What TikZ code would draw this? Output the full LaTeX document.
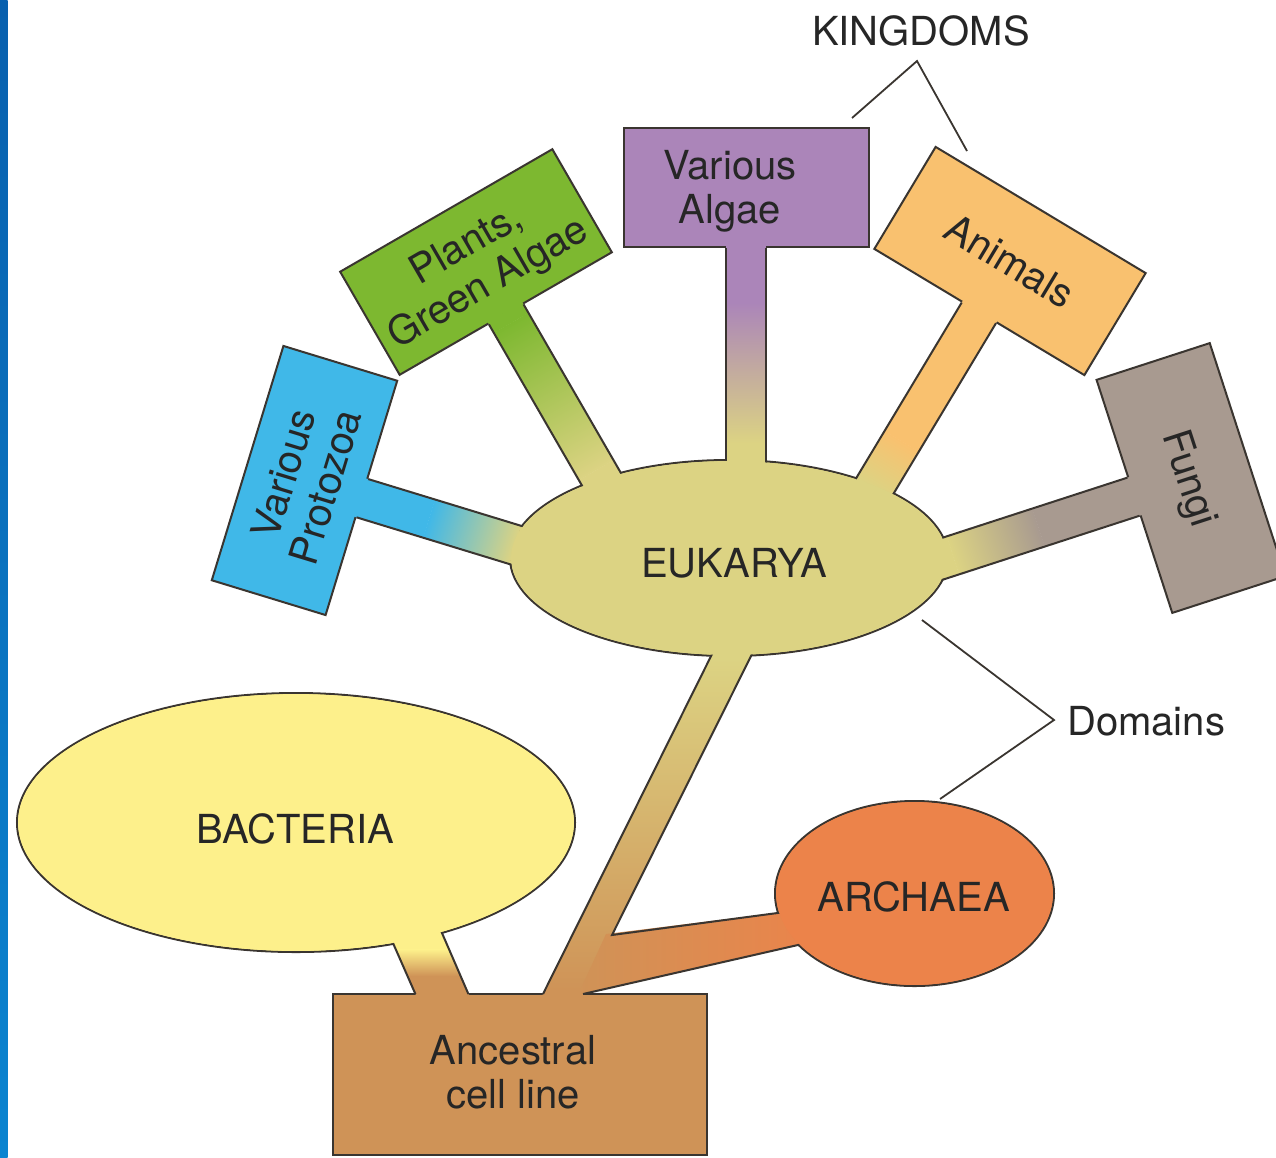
\documentclass[tikz,border=0pt]{standalone}
\usepackage{fontspec}
\setmainfont{TeX Gyre Heros}
\usetikzlibrary{shapes.geometric}

\definecolor{algaec}{HTML}{AB85B9}
\definecolor{plantc}{HTML}{7DB830}
\definecolor{protoc}{HTML}{40B8E8}
\definecolor{animc}{HTML}{F9C16F}
\definecolor{fungic}{HTML}{A89A90}
\definecolor{eukc}{HTML}{DCD383}
\definecolor{bactc}{HTML}{FDF08B}
\definecolor{archc}{HTML}{EC834A}
\definecolor{ancc}{HTML}{CF9357}
\definecolor{edgec}{HTML}{3A3530}
\definecolor{txtc}{HTML}{262626}
\definecolor{stripa}{HTML}{0860AE}
\definecolor{stripb}{HTML}{0A84D0}

\tikzset{
  every node/.style={font=\fontsize{40}{44}\selectfont, text=txtc},
  kbox/.style={draw=edgec, line width=2pt, rectangle, minimum width=245pt,
    minimum height=119pt, inner sep=0pt, align=center},
  dom/.style={draw=edgec, line width=2pt, ellipse, inner sep=0pt},
  domin/.style={ellipse, inner sep=0pt},
  lbl/.style={inner sep=0pt, align=center},
  edge/.style={draw=edgec, line width=2pt},
  bracket/.style={draw=edgec, line width=1.8pt},
}

% stem from a (rotated) box toward the EUKARYA ellipse
% #1 node, #2 angle, #3 solid length, #4 end of gradient, #5 total length,
% #6 box colour, #7 ellipse colour
\newcommand\kstem[7]{%
  \begin{scope}[transform canvas={shift={(#1.south)},rotate=#2}]
    \fill[#6] (-20,-3) rectangle (20,#3);
    \shade[top color=#6,bottom color=#7] (-20,#3-0.3) rectangle (20,#4);
    \fill[#7] (-20,#4-0.3) rectangle (20,#5);
    \draw[edge] (-20,0) -- (-20,#5) (20,0) -- (20,#5);
  \end{scope}}

\begin{document}
\begin{tikzpicture}[x=1pt,y=-1pt]
\useasboundingbox (0,0) rectangle (1276,1157);
\fill[white] (0,0) rectangle (1276,1157);
\shade[top color=stripa, bottom color=stripb] (0,0) rectangle (7.5,1157);

% ---- domains and root box
\node[dom, fill=eukc, minimum width=438pt, minimum height=196pt] (euk) at (729,558) {};
\node[dom, fill=bactc, minimum width=558pt, minimum height=259pt] (bact) at (296,822.5) {};
\node[dom, fill=archc, minimum width=279pt, minimum height=185pt] (arch) at (914.5,893.5) {};
\node[kbox, fill=ancc, minimum width=374pt, minimum height=161pt] (anc) at (520,1074.5) {};

% ---- kingdom boxes
\node[kbox, fill=algaec] (algae) at (746,187.5) {};
\node[kbox, fill=plantc, rotate=30] (plants) at (476,262) {\rule{0pt}{37pt}Plants,\\Green Algae};
\node[kbox, fill=protoc, rotate=73] (proto) at (304.5,480.5) {Various\\Protozoa};
\node[kbox, fill=animc, rotate=-31] (anim) at (1010,261) {Animals};
\node[kbox, fill=fungic, rotate=-72] (fungi) at (1191,478) {\rule{0pt}{37pt}Fungi};

% ---- stems of the kingdoms
\kstem{algae}{0}{55}{195}{250}{algaec}{eukc}
\kstem{plants}{30}{10}{180}{215}{plantc}{eukc}
\kstem{proto}{73}{70}{160}{205}{protoc}{eukc}
\kstem{anim}{-31}{150}{205}{245}{animc}{eukc}
\kstem{fungi}{-72}{100}{190}{230}{fungic}{eukc}

% ---- stem bacteria -> ancestral
\coordinate (bs1) at (381.1,916);
\coordinate (bs2) at (430.3,906);
\coordinate (bs3) at (468.4,994);
\coordinate (bs4) at (415.4,994);
\begin{scope}
  \clip (bs1) -- (bs2) -- (469.7,997) -- (416.8,997) -- cycle;
  \fill[bactc] (360,890) rectangle (490,950);
  \shade[top color=bactc, bottom color=ancc] (360,949.5) rectangle (490,976);
  \fill[ancc] (360,975.5) rectangle (490,1000);
\end{scope}
\draw[edge] (bs1) -- (bs4) (bs2) -- (bs3);

% ---- trunk ancestral -> eukarya, branch -> archaea
\coordinate (t0) at (543,994);
\coordinate (t2) at (725,628);
\coordinate (t3) at (765,628);
\coordinate (t4) at (612,935);
\coordinate (t5) at (800,910);
\coordinate (t6) at (822,939.5);
\coordinate (t7) at (583,994);
\begin{scope}
  \clip (541.5,997) -- (t2) -- (t3) -- (581.5,997) -- cycle;
  \fill[eukc] (520,620) rectangle (780,658);
  \shade[top color=eukc, bottom color=ancc] (520,657.5) rectangle (780,990);
  \fill[ancc] (520,989.5) rectangle (780,1000);
\end{scope}
\begin{scope}
  \clip (606,934) -- (t5) -- (t6) -- (583,994) -- (583,997) -- (577,997) -- cycle;
  \shade[left color=ancc, right color=archc] (575,905) rectangle (825,1000);
\end{scope}
\draw[edge] (t0) -- (t2) (t3) -- (t4) -- (t5) (t6) -- (t7);

% ---- refill the domains (hides the joins) and their labels
\node[domin, fill=eukc, minimum width=435.8pt, minimum height=193.8pt] (eukin) at (euk.center) {};
\node[domin, fill=bactc, minimum width=555.8pt, minimum height=256.8pt] (bactin) at (bact.center) {};
\node[domin, fill=archc, minimum width=276.8pt, minimum height=182.8pt] (archin) at (arch.center) {};
\node[lbl] (euktxt) at (734,563) {EUKARYA};
\node[lbl] (bacttxt) at (295,829) {BACTERIA};
\node[lbl] (archtxt) at (913.5,897) {ARCHAEA};
\node[lbl] (anctxt) at (513,1068) {\rule{0pt}{37pt}Ancestral\\cell line};
\node[lbl] (algaetxt) at (730,187) {\rule{0pt}{37pt}Various\\Algae};

% ---- brackets
\node[lbl] (kingdoms) at (921,30.5) {KINGDOMS};
\coordinate (ka) at (852,118);
\coordinate (kb) at (917,61);
\coordinate (kc) at (967,151);
\draw[bracket] (ka) -- (kb) -- (kc);

\node[lbl, anchor=west] (domains) at (1067,721.5) {Domains};
\coordinate (da) at (922,620);
\coordinate (db) at (1054,720);
\coordinate (dc) at (940,799);
\draw[bracket] (da) -- (db) -- (dc);
\end{tikzpicture}
\end{document}
